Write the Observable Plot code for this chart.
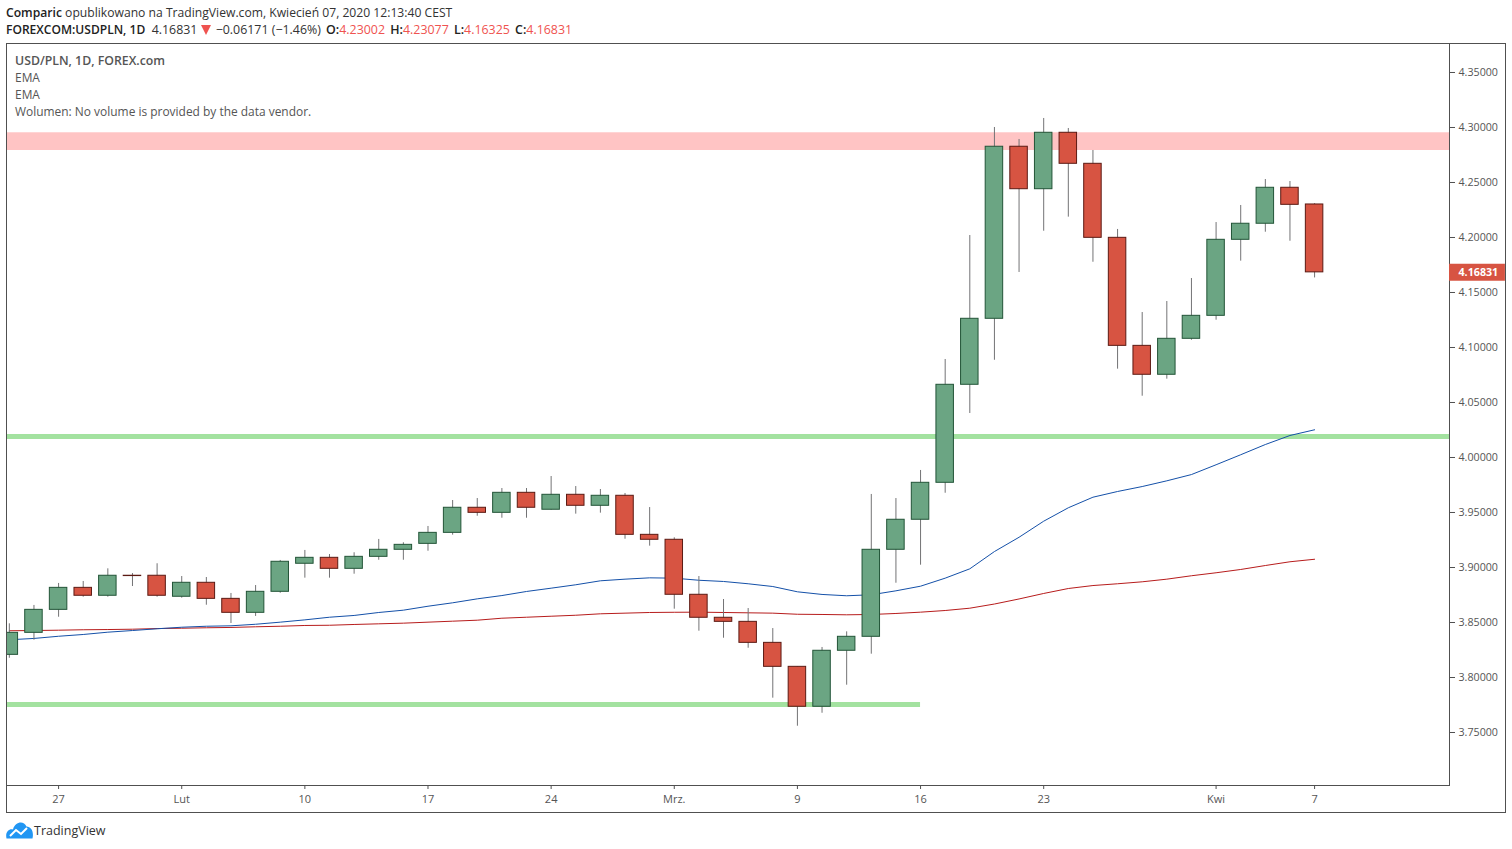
<!DOCTYPE html>
<html><head><meta charset="utf-8">
<script src="https://cdn.jsdelivr.net/npm/d3@7"></script>
<script src="https://cdn.jsdelivr.net/npm/@observablehq/plot@0.6"></script>
<style>
html,body{margin:0;padding:0;background:#fff;width:1512px;height:849px;overflow:hidden;font-family:"Open Sans",sans-serif;}
#head{position:absolute;left:6px;top:4px;font-size:12.15px;line-height:17px;color:#333;white-space:nowrap}
#head b{font-weight:600;color:#222}
#head .r{color:#ef5350}
#head .l2{font-size:12.4px}
#head .l2 b{margin-left:2px}
#head .l2 b:first-child{margin-left:0;font-size:12.05px}
#head .t{vertical-align:-1px;margin:0 5px 0 0}
#box{position:absolute;left:6px;top:43px;width:1498px;height:768px;border:1px solid #505050}
#chart{position:absolute;left:0;top:43px}
#leg{position:absolute;left:15px;top:52px;font-size:11.95px;line-height:17px;color:#555;white-space:nowrap}
#leg b{font-weight:600;font-size:12.3px}
#foot{position:absolute;left:6px;top:821px;display:flex;align-items:center;font-size:12.5px;color:#333}
</style></head><body>
<div id="head">
<div><b>Comparic</b> opublikowano na TradingView.com, Kwiecień 07, 2020 12:13:40 CEST</div>
<div class="l2"><b>FOREXCOM:USDPLN, 1D</b>&nbsp; 4.16831 <svg class="t" width="10" height="10" viewBox="0 0 10 10"><path d="M0 0H10L5 10Z" fill="#ef5350"/></svg>−0.06171 (−1.46%) <b>O:</b><span class="r">4.23002</span> <b>H:</b><span class="r">4.23077</span> <b>L:</b><span class="r">4.16325</span> <b>C:</b><span class="r">4.16831</span></div>
</div>
<div id="box"></div>
<div id="chart"></div>
<div id="leg"><div><b>USD/PLN, 1D, FOREX.com</b></div><div>EMA</div><div>EMA</div><div>Wolumen: No volume is provided by the data vendor.</div></div>
<div id="foot"><svg width="27" height="18" viewBox="0 0 27 18" style="margin-right:1px"><path d="M0.5 17.5 C-1 11 3 7.5 7 8.5 C9 1 17.5 -1 20.5 5.5 C25.5 5.5 28 11 26.5 17.5Z" fill="#2196f3"/><path d="M4 15 L10 9 L15 13 L21 7" fill="none" stroke="#fff" stroke-width="2"/></svg><span>TradingView</span></div>
<script>
const opens  = [3.8206,3.8406,3.8615,3.8815,3.8743,3.8925,3.8925,3.8734,3.8861,3.8715,3.8588,3.8779,3.9034,3.9088,3.8988,3.9097,3.9161,3.9215,3.9315,3.9543,3.9497,3.9679,3.9525,3.9661,3.9561,3.9652,3.9297,3.9252,3.8752,3.8543,3.8506,3.8315,3.8097,3.7734,3.8243,3.8370,3.9161,3.9434,3.9770,4.0661,4.1261,4.2825,4.2439,4.2952,4.2670,4.1997,4.1015,4.0752,4.1079,4.1288,4.1979,4.2125,4.2452,4.23002];
const highs  = [3.8488,3.8655,3.8855,3.8873,3.8988,3.8945,3.9034,3.8918,3.8909,3.8764,3.8836,3.9064,3.9155,3.9118,3.9134,3.9255,3.9225,3.9373,3.9609,3.9627,3.9718,3.9718,3.9827,3.9736,3.9709,3.9673,3.9545,3.9270,3.8918,3.8709,3.8627,3.8445,3.8097,3.8273,3.8415,3.9664,3.9627,3.9882,4.0891,4.2018,4.3000,4.2891,4.3082,4.2991,4.2791,4.2073,4.1318,4.1418,4.1627,4.2136,4.2291,4.2527,4.2509,4.23077];
const lows   = [3.8175,3.8339,3.8548,3.8730,3.8730,3.8827,3.8730,3.8721,3.8657,3.8491,3.8555,3.8766,3.8903,3.8903,3.8939,3.9066,3.9066,3.9148,3.9294,3.9466,3.9448,3.9448,3.9521,3.9485,3.9494,3.9257,3.9194,3.8621,3.8421,3.8357,3.8266,3.7812,3.7557,3.7675,3.7930,3.8212,3.8857,3.9021,3.9675,4.0400,4.0884,4.1682,4.2057,4.2185,4.1775,4.0803,4.0557,4.0712,4.1066,4.1248,4.1785,4.2048,4.1966,4.16325];
const closes = [3.8406,3.8615,3.8815,3.8743,3.8925,3.8922,3.8743,3.8861,3.8715,3.8588,3.8779,3.9052,3.9088,3.8988,3.9097,3.9161,3.9206,3.9315,3.9543,3.9497,3.9679,3.9543,3.9661,3.9561,3.9652,3.9297,3.9252,3.8752,3.8543,3.8506,3.8315,3.8097,3.7734,3.8243,3.8370,3.9161,3.9434,3.9770,4.0661,4.1261,4.2825,4.2439,4.2952,4.2670,4.1997,4.1015,4.0752,4.1079,4.1288,4.1979,4.2125,4.2452,4.2297,4.16831];
const emaFast = [3.8343,3.8355,3.8375,3.8391,3.8412,3.8427,3.8443,3.8457,3.8466,3.8470,3.8484,3.8503,3.8524,3.8548,3.8564,3.8591,3.8612,3.8648,3.8679,3.8715,3.8745,3.8782,3.8812,3.8843,3.8879,3.8894,3.8906,3.8903,3.8884,3.8873,3.8852,3.8827,3.8779,3.8755,3.8743,3.8752,3.8788,3.8830,3.8903,3.8988,3.9145,3.9275,3.9421,3.9543,3.9639,3.9691,3.9736,3.9788,3.9845,3.9934,4.0025,4.0118,4.0200,4.0252];
const emaSlow = [3.8425,3.8427,3.8430,3.8434,3.8436,3.8439,3.8445,3.8448,3.8452,3.8455,3.8461,3.8466,3.8473,3.8475,3.8482,3.8488,3.8494,3.8503,3.8512,3.8521,3.8539,3.8548,3.8557,3.8566,3.8579,3.8585,3.8591,3.8593,3.8594,3.8591,3.8588,3.8585,3.8575,3.8573,3.8570,3.8573,3.8582,3.8594,3.8609,3.8630,3.8668,3.8714,3.8764,3.8809,3.8836,3.8852,3.8870,3.8894,3.8925,3.8952,3.8982,3.9018,3.9052,3.9075];
const tickIndex = [2,7,12,17,22,27,32,37,42,49,53];
const tickLabels = ["27","Lut","10","17","24","Mrz.","9","16","23","Kwi","7"];
const priceTicks = [3.75,3.8,3.85,3.9,3.95,4,4.05,4.1,4.15,4.2,4.25,4.3,4.35];
const resistance = [4.2791,4.2952];
const supportA = 4.0192;
const supportB = 3.7755;
const supportBEnd = 37;
const lastPrice = 4.16831;

const candles = opens.map((o,i)=>({i,o,h:highs[i],l:lows[i],c:closes[i],up:closes[i]>o}));
const xMin=-0.115,xMax=58.478,halfBar=0.355;
const ups=candles.filter(d=>d.up),downs=candles.filter(d=>!d.up);
const line=(arr)=>arr.map((v,i)=>({i,v}));
const bodies=(data,fill,stroke)=>Plot.rect(data,{x1:d=>d.i-halfBar,x2:d=>d.i+halfBar,y1:"o",y2:"c",fill,stroke,strokeWidth:1,clip:true});
const chart=Plot.plot({
  width:1512,height:770,marginLeft:6,marginRight:63,marginTop:0,marginBottom:28,
  style:{fontFamily:"'Open Sans',sans-serif",fontSize:"10.7px",color:"#555",background:"transparent",overflow:"visible"},
  x:{type:"linear",domain:[xMin,xMax],axis:null},
  y:{domain:[3.70182,4.37636],axis:null},
  marks:[
    Plot.rect([resistance],{x1:xMin,x2:xMax,y1:d=>d[0],y2:d=>d[1],fill:"#ffc4c4"}),
    Plot.ruleY([supportA],{x1:xMin,x2:xMax,stroke:"#a3e2a0",strokeWidth:5}),
    Plot.ruleY([supportB],{x1:xMin,x2:supportBEnd,stroke:"#a3e2a0",strokeWidth:5}),
    Plot.line(line(emaSlow),{x:"i",y:"v",stroke:"#b71c1c",strokeWidth:1,clip:true}),
    Plot.line(line(emaFast),{x:"i",y:"v",stroke:"#1450a8",strokeWidth:1,clip:true}),
    Plot.ruleX(candles,{x:"i",y1:"l",y2:"h",stroke:"#737375",strokeWidth:1,clip:true}),
    bodies(ups,"#6ba583","#225437"),
    bodies(downs,"#d75442","#5b1a13"),
    Plot.frame({stroke:"#505050",strokeWidth:1}),
    Plot.axisY(priceTicks,{anchor:"right",tickSize:5,tickPadding:4,tickFormat:d3.format(".5f"),stroke:"#505050",fill:"#555",label:null}),
    Plot.axisX(tickIndex,{anchor:"bottom",tickSize:4,tickPadding:6,tickFormat:v=>tickLabels[tickIndex.indexOf(v)],stroke:"#505050",fill:"#555",fontSize:11,label:null}),
    Plot.ruleY([lastPrice],{x1:xMax,x2:xMax+2.27,stroke:"#d75442",strokeWidth:17}),
    Plot.text([lastPrice],{x:xMax,y:d=>d,text:d=>d3.format(".5f")(d),dx:9,textAnchor:"start",fill:"#fff",fontWeight:700,fontSize:10.7})
  ]
});
document.getElementById("chart").appendChild(chart);
</script>
</body></html>
